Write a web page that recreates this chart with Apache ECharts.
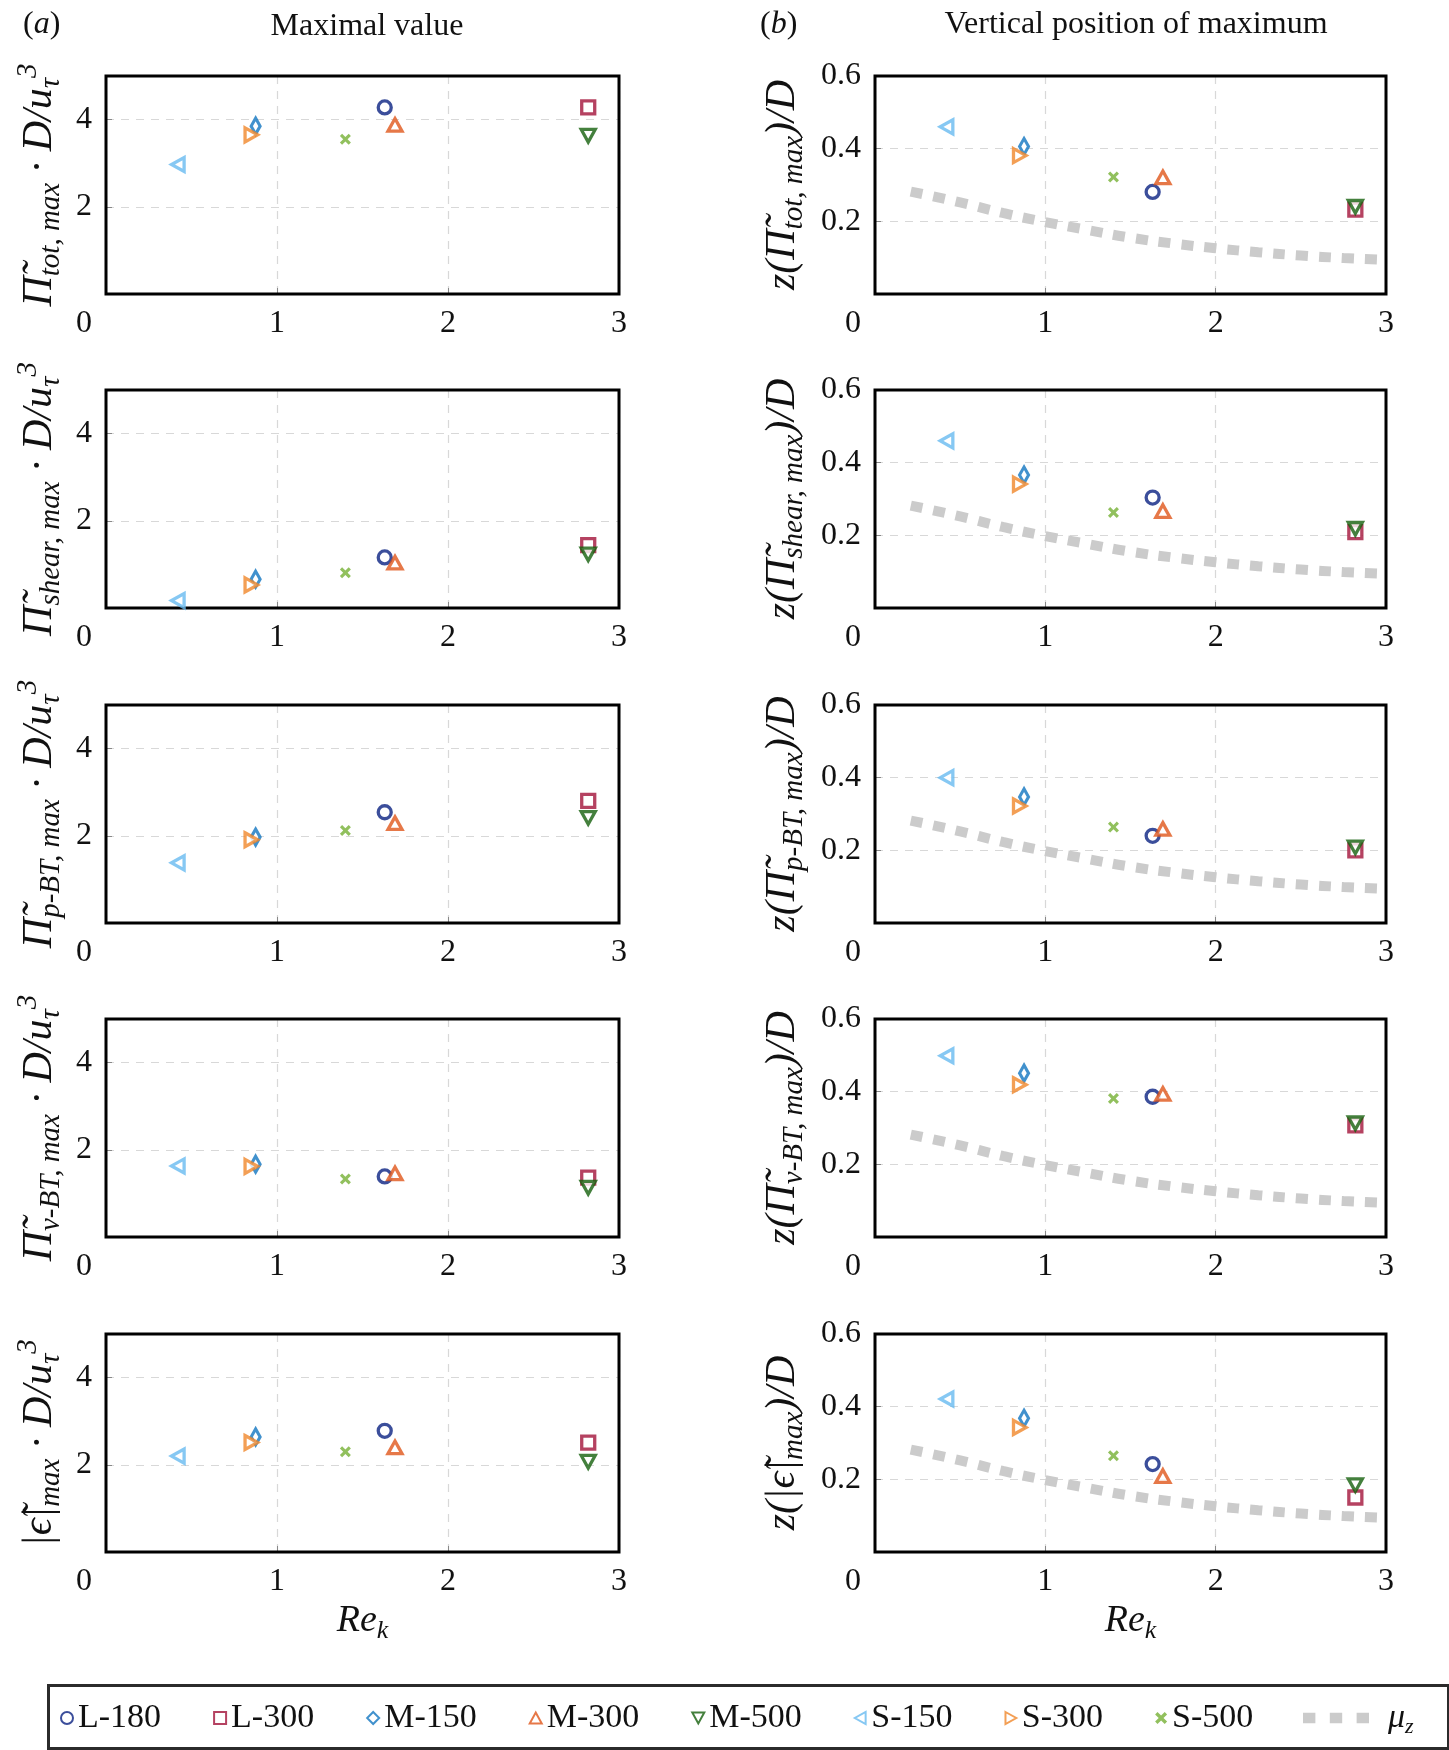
<!DOCTYPE html>
<html lang="en">
  <head>
    <meta charset="UTF-8" />
    <title>Maximal value and vertical position</title>
    <script src="https://cdn.jsdelivr.net/npm/echarts@6/dist/echarts.min.js"></script>
  </head>
  <body style="margin: 0; background: #fff">
    <div id="main" style="width: 1449px; height: 1750px"></div>
    <script type="text/javascript">
      // cases, in legend order
      const caseNames = ['L-180', 'L-300', 'M-150', 'M-300', 'M-500', 'S-150', 'S-300', 'S-500'];
      const reK = [1.63, 2.82, 0.875, 1.69, 2.82, 0.42, 0.85, 1.40];

      // (a) maximal values
      const valueTot = [4.28, 4.28, 3.85, 3.88, 3.63, 2.97, 3.65, 3.55];
      const valueShear = [1.16, 1.44, 0.66, 1.04, 1.23, 0.17, 0.53, 0.81];
      const valuePBT = [2.54, 2.80, 1.97, 2.29, 2.41, 1.38, 1.91, 2.12];
      const valueNuBT = [1.39, 1.36, 1.67, 1.46, 1.13, 1.63, 1.62, 1.33];
      const valueEps = [2.78, 2.51, 2.64, 2.40, 2.07, 2.20, 2.51, 2.30];

      // (b) vertical position of the maximum
      const posTot = [0.281, 0.232, 0.406, 0.321, 0.240, 0.460, 0.381, 0.322];
      const posShear = [0.304, 0.209, 0.366, 0.267, 0.218, 0.460, 0.341, 0.263];
      const posPBT = [0.240, 0.200, 0.347, 0.259, 0.208, 0.400, 0.322, 0.264];
      const posNuBT = [0.386, 0.307, 0.451, 0.394, 0.313, 0.499, 0.419, 0.381];
      const posEps = [0.242, 0.150, 0.368, 0.209, 0.184, 0.421, 0.343, 0.265];

      // mu_z curve
      const muZx = [0.21, 0.5, 0.75, 1.0, 1.25, 1.5, 1.75, 2.0, 2.25, 2.5, 2.75, 3.0];
      const muZy = [0.282, 0.252, 0.223, 0.198, 0.176, 0.155, 0.139, 0.126, 0.115, 0.106, 0.099, 0.094];

      const xTicks = [0, 1, 2, 3];
      const leftTicks = [2, 4];
      const rightTicks = [0.2, 0.4, 0.6];

      const font = "'Liberation Serif', 'Times New Roman', serif";
      const colors = ['#0a2282', '#a3133a', '#1275c0', '#e0561a', '#15600d', '#68baf0', '#f0872a', '#76b035'];
      const symbols = [
        'circle', 'rect', 'diamond',
        'path://M5,0 L10,9 L0,9 Z',   // up
        'path://M0,0 L10,0 L5,9 Z',   // down
        'path://M9,0 L9,10 L0,5 Z',   // left
        'path://M0,0 L9,5 L0,10 Z',   // right
        'path://M0,2 L2,0 L5,3 L8,0 L10,2 L7,5 L10,8 L8,10 L5,7 L2,10 L0,8 L3,5 Z'
      ];
      const sizes = [13, 13, [9, 16], 14, 14, 14, 14, 11];

      const leftData = [valueTot, valueShear, valuePBT, valueNuBT, valueEps];
      const rightData = [posTot, posShear, posPBT, posNuBT, posEps];
      const subs = ['tot, max', 'shear, max', 'p-BT, max', 'ν-BT, max'];
      const leftNames = subs.map(s => '{m|Π̃}{s|' + s + '}{m| · D/u}{s|τ}{p|3}')
        .concat(['{m||ϵ̃|}{s|max}{m| · D/u}{s|τ}{p|3}']);
      const rightNames = subs.map(s => '{m|z(Π̃}{s|' + s + '}{m|)/D}')
        .concat(['{m|z(|ϵ̃|}{s|max}{m|)/D}']);

      const rich = {
        m: { fontFamily: font, fontStyle: 'italic', fontSize: 42, lineHeight: 52, verticalAlign: 'middle', color: '#111' },
        s: { fontFamily: font, fontStyle: 'italic', fontSize: 29, lineHeight: 29, verticalAlign: 'bottom', color: '#111' },
        p: { fontFamily: font, fontStyle: 'italic', fontSize: 29, lineHeight: 29, verticalAlign: 'top', color: '#111' }
      };

      const rowTops = [76, 390, 705, 1019, 1334];
      const grids = [], xAxes = [], yAxes = [], series = [];

      function addPanel(left, width, top, row, isRight) {
        const idx = grids.length;
        grids.push({ left: left, top: top, width: width, height: 218, show: true,
          borderColor: '#000', borderWidth: 3, z: 1 });
        xAxes.push({
          gridIndex: idx, type: 'value', min: xTicks[0], max: xTicks[xTicks.length - 1], interval: 1,
          axisLine: { show: false },
          axisTick: { show: true, inside: true, length: 6, lineStyle: { color: '#888' } },
          splitLine: { show: true, lineStyle: { color: '#d8d8d8', type: [8, 7], width: 1.2 } },
          axisLabel: {
            margin: 14, fontFamily: font, fontSize: 32, color: '#111',
            formatter: v => (v === 0 ? '{z|0}' : String(v)),
            rich: { z: { fontFamily: font, fontSize: 32, color: '#111', padding: [0, 44, 0, 0] } }
          },
          name: row === 4 ? '{i|Re}{k|k}' : '',
          nameLocation: 'middle', nameGap: 46,
          nameTextStyle: { rich: {
            i: { fontFamily: font, fontStyle: 'italic', fontSize: 38, lineHeight: 46, verticalAlign: 'middle', color: '#111' },
            k: { fontFamily: font, fontStyle: 'italic', fontSize: 26, lineHeight: 26, verticalAlign: 'bottom', color: '#111' }
          } }
        });
        yAxes.push({
          gridIndex: idx, type: 'value', min: 0, max: isRight ? 0.6 : 5, interval: isRight ? 0.2 : 2,
          axisLine: { show: false },
          axisTick: { show: true, inside: true, length: 6, lineStyle: { color: '#888' } },
          splitLine: { show: true, lineStyle: { color: '#d8d8d8', type: [8, 7], width: 1.2 } },
          axisLabel: {
            margin: 14, fontFamily: font, fontSize: 32, color: '#111',
            formatter: isRight
              ? v => (rightTicks.some(t => Math.abs(t - v) < 1e-6) ? v.toFixed(1) : '')
              : v => (leftTicks.indexOf(v) >= 0 ? String(v) : '')
          },
          name: isRight ? rightNames[row] : leftNames[row],
          nameLocation: 'middle', nameGap: isRight ? 66 : 40,
          nameTextStyle: { rich: rich }
        });

        const vals = isRight ? rightData[row] : leftData[row];
        caseNames.forEach((name, i) => {
          const cross = i === 7;
          series.push({
            name: name, type: 'scatter', xAxisIndex: idx, yAxisIndex: idx, z: 3,
            symbol: symbols[i], symbolSize: sizes[i], symbolKeepAspect: true,
            itemStyle: cross
              ? { color: colors[i], borderWidth: 0 }
              : { color: '#fff', borderColor: colors[i], borderWidth: 3.3 },
            data: [[reK[i], vals[i]]]
          });
        });
        if (isRight) {
          series.push({
            name: 'μz', type: 'line', xAxisIndex: idx, yAxisIndex: idx, smooth: true, z: 2,
            showSymbol: false, symbol: 'none',
            lineStyle: { color: '#cbcbcb', width: 10, type: [12, 11], cap: 'butt' },
            itemStyle: { color: '#cbcbcb' },
            data: muZx.map((x, j) => [x, muZy[j]])
          });
        }
      }

      for (let r = 0; r < 5; r++) addPanel(106, 513, rowTops[r], r, false);
      for (let r = 0; r < 5; r++) addPanel(875, 511, rowTops[r], r, true);

      const titleStyle = { fontFamily: font, fontSize: 32, fontWeight: 'normal', color: '#111',
        rich: { i: { fontFamily: font, fontSize: 32, fontStyle: 'italic', color: '#111' } } };

      let myChart = echarts.init(document.getElementById('main'));
      myChart.setOption({
        animation: false,
        backgroundColor: '#fff',
        title: [
          { text: '({i|a})', left: 18, top: 4, textStyle: titleStyle },
          { text: 'Maximal value', left: 362, top: 6, textAlign: 'center', textStyle: titleStyle },
          { text: '({i|b})', left: 755, top: 4, textStyle: titleStyle },
          { text: 'Vertical position of maximum', left: 1131, top: 4, textAlign: 'center', textStyle: titleStyle }
        ],
        grid: grids,
        xAxis: xAxes,
        yAxis: yAxes,
        legend: [
          {
            data: caseNames, left: 55, top: 1696, itemWidth: 12, itemHeight: 12, itemGap: 52,
            textStyle: { fontFamily: font, fontSize: 34, color: '#111' }
          },
          {
            data: [{ name: 'μz', icon: 'path://M0,0h12v10h-12z M26,0h12v10h-12z M52,0h12v10h-12z' }],
            left: 1298, top: 1696, itemWidth: 66, itemHeight: 11,
            formatter: () => '{i|μ}{k|z}',
            textStyle: { padding: [0, 0, 0, 14], rich: {
              i: { fontFamily: font, fontStyle: 'italic', fontSize: 34, lineHeight: 40, verticalAlign: 'middle', color: '#111' },
              k: { fontFamily: font, fontStyle: 'italic', fontSize: 22, lineHeight: 22, verticalAlign: 'bottom', color: '#111' }
            } }
          }
        ],
        graphic: [
          { type: 'rect', left: 46, top: 1683, shape: { width: 1400, height: 63 },
            style: { fill: 'none', stroke: '#2b2b2b', lineWidth: 3 } }
        ],
        series: series
      });
    </script>
  </body>
</html>
